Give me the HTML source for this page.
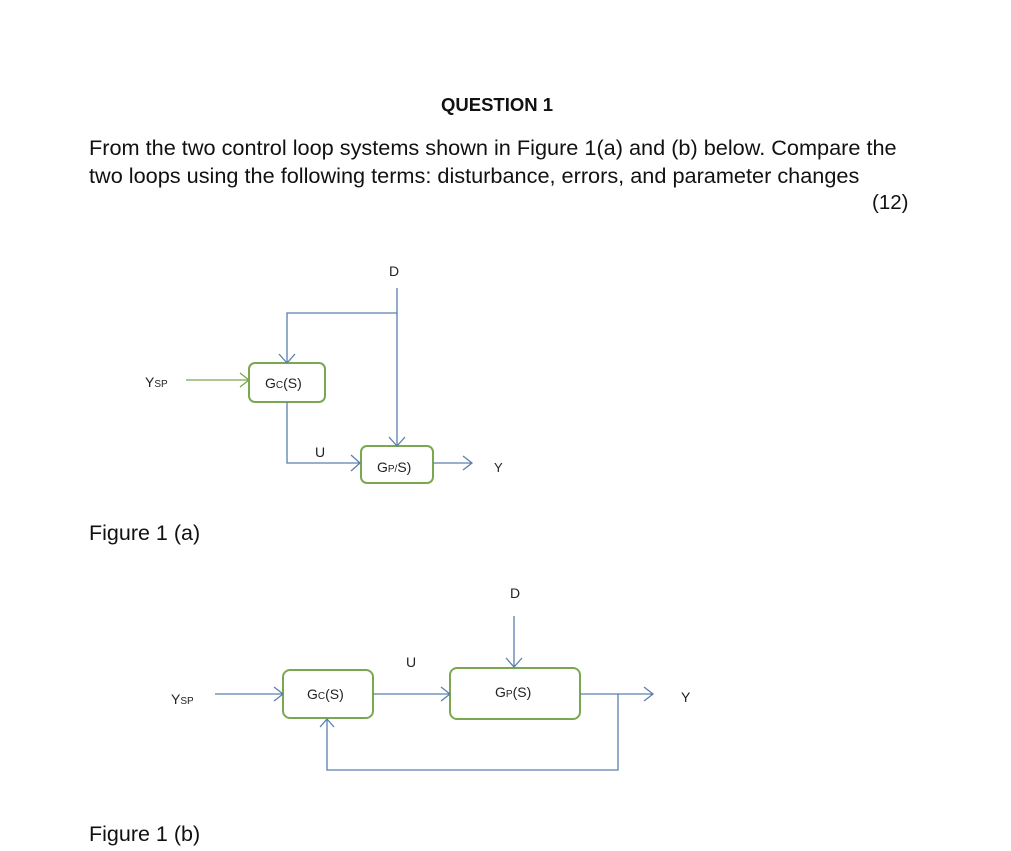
<!DOCTYPE html>
<html><head><style>
body{margin:0;background:#fff;}
.w{position:relative;width:1011px;height:851px;overflow:hidden;font-family:"Liberation Sans",sans-serif;color:#111;}
.t{position:absolute;white-space:nowrap;}
</style></head><body><div class="w">
<div class="t" style="left:441px;top:94px;font-size:18.5px;font-weight:bold;">QUESTION 1</div>
<div class="t" style="left:89px;top:134px;font-size:21.7px;line-height:28px;">From the two control loop systems shown in Figure 1(a) and (b) below. Compare the<br>two loops using the following terms: disturbance, errors, and parameter changes</div>
<div class="t" style="left:872px;top:191px;font-size:20.5px;">(12)</div>
<div class="t" style="left:89px;top:521px;font-size:21.5px;">Figure 1 (a)</div>
<div class="t" style="left:89px;top:822px;font-size:21.5px;">Figure 1 (b)</div>
<svg width="1011" height="851" style="position:absolute;left:0;top:0" font-family="Liberation Sans, sans-serif" font-size="14" fill="#222">
<g fill="none" stroke-width="1.3">
<rect x="249" y="363" width="76" height="39" rx="6" stroke="#7aa84f" stroke-width="2"/>
<rect x="361" y="446" width="72" height="37" rx="6" stroke="#7aa84f" stroke-width="2"/>
<rect x="283" y="670" width="90" height="48" rx="7" stroke="#7aa84f" stroke-width="2"/>
<rect x="450" y="668" width="130" height="51" rx="7" stroke="#7aa84f" stroke-width="2"/>
<g stroke="#5b7fb0">
<path d="M397 288V445M397 313H287V362M389 437l8 9 8-9M279 354l8 9 8-9"/>
<path d="M287 402V463H360M351 455l9 8-9 8"/>
<path d="M433 463H471M463 456l9 7-9 7"/>
<path d="M514 616V666M506 658l8 9 8-9"/>
<path d="M215 694H282M274 687l9 7-9 7M373 694H449M441 687l9 7-9 7M580 694H652M644 687l9 7-9 7"/>
<path d="M618 694V770H327V719M320 727l7-8 7 8"/>
</g>
<g stroke="#7aa84f"><path d="M186 380H248M240 373l9 7-9 7"/></g>
</g>
<text x="389" y="276">D</text>
<text x="145" y="387">Y<tspan font-size="10">SP</tspan></text>
<text x="265" y="388">G<tspan font-size="10">C</tspan>(S)</text>
<text x="315" y="457">U</text>
<text x="377" y="472">G<tspan font-size="10">P/</tspan>S)</text>
<text x="494" y="472" font-size="13">Y</text>
<text x="510" y="598">D</text>
<text x="171" y="704">Y<tspan font-size="10">SP</tspan></text>
<text x="307" y="699">G<tspan font-size="10">C</tspan>(S)</text>
<text x="406" y="667">U</text>
<text x="495" y="697">G<tspan font-size="10">P</tspan>(S)</text>
<text x="681" y="702">Y</text>
</svg>
</div></body></html>
